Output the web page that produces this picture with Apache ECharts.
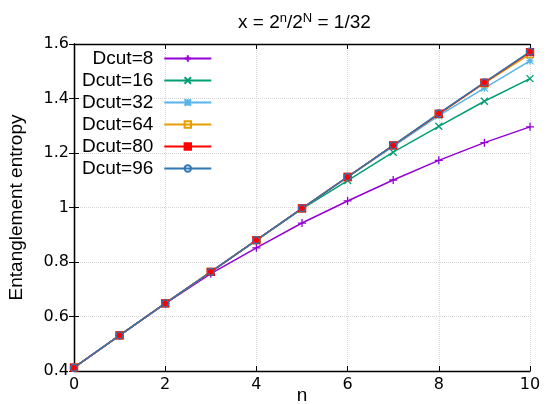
<!DOCTYPE html>
<html>
<head>
<meta charset="utf-8">
<title>Entanglement entropy</title>
<script src="https://cdn.jsdelivr.net/npm/echarts@6/dist/echarts.min.js"></script>
<style>
  html, body { margin: 0; padding: 0; background: #fff; }
  #entropyChart { width: 546px; height: 404px; }
</style>
</head>
<body>
<div id="entropyChart"></div>
<script>
// values
let nValues = [0, 1, 2, 3, 4, 5, 6, 7, 8, 9, 10];
let dcut8 = [0.412, 0.531, 0.647, 0.757, 0.852, 0.943, 1.024, 1.101, 1.173, 1.238, 1.296];
let dcut16 = [0.412, 0.531, 0.648, 0.764, 0.879, 0.995, 1.099, 1.203, 1.298, 1.390, 1.473];
let dcut32 = [0.412, 0.531, 0.648, 0.764, 0.880, 0.997, 1.111, 1.224, 1.337, 1.438, 1.538];
let dcut64 = [0.412, 0.531, 0.648, 0.764, 0.880, 0.997, 1.112, 1.228, 1.343, 1.456, 1.563];
let dcut80 = [0.412, 0.531, 0.648, 0.764, 0.880, 0.997, 1.112, 1.228, 1.344, 1.458, 1.570];
let dcut96 = [0.412, 0.531, 0.648, 0.764, 0.880, 0.997, 1.112, 1.228, 1.345, 1.459, 1.572];
let xTicks = [0, 2, 4, 6, 8, 10];
let yTicks = [0.4, 0.6, 0.8, 1, 1.2, 1.4, 1.6];

let seriesNames = ["Dcut=8", "Dcut=16", "Dcut=32", "Dcut=64", "Dcut=80", "Dcut=96"];
let seriesValues = [dcut8, dcut16, dcut32, dcut64, dcut80, dcut96];

// gnuplot-like colours and point types
let colors = ["#9400d3", "#009e73", "#56b4e9", "#e69f00", "#ff0000", "#2f78b4"];
let symbols = [
  "path://M5,0L5,10M0,5L10,5",
  "path://M0,0L10,10M10,0L0,10",
  "path://M0,0L10,10M10,0L0,10M5,0L5,10M0,5L10,5",
  "path://M0,0L10,0L10,10L0,10Z",
  "rect",
  "path://M10,5A5,5,0,1,1,0,5A5,5,0,1,1,10,5Z"
];
let symbolSizes = [8, 7, 7, 7, 7, 7];
let hollow = [false, false, false, true, false, true];

let armFont = "Liberation Sans, Arial, sans-serif";
let tickFont = "DejaVu Sans, sans-serif";

let series = seriesNames.map((name, i) => {
  return {
    name: name,
    type: "line",
    data: nValues.map((n, k) => [n, seriesValues[i][k]]),
    symbol: symbols[i],
    symbolSize: symbolSizes[i],
    showSymbol: true,
    lineStyle: { color: colors[i], width: 1.5 },
    itemStyle: {
      color: hollow[i] ? "rgba(0,0,0,0)" : colors[i],
      borderColor: colors[i],
      borderWidth: 1.3
    },
    emphasis: { disabled: true }
  };
});

let myChart = echarts.init(document.getElementById("entropyChart"));
myChart.setOption({
  animation: false,
  title: {
    left: 233,
    top: 7,
    text: "{a|x = 2}{s|n}{a|/2}{s|N}{a| = 1/32}",
    textStyle: {
      rich: {
        a: { fontFamily: armFont, fontSize: 19, fontWeight: "normal", color: "#000", lineHeight: 22 },
        s: { fontFamily: armFont, fontSize: 13, fontWeight: "normal", color: "#000", lineHeight: 22, padding: [0, 0, 9, 0] }
      }
    }
  },
  legend: {
    orient: "vertical",
    left: 82,
    top: 49,
    align: "right",
    padding: 0,
    itemWidth: 47,
    itemHeight: 8,
    itemGap: 3,
    selectedMode: false,
    textStyle: {
      fontFamily: armFont,
      fontSize: 19,
      lineHeight: 19,
      color: "#000",
      padding: [0, 6, 0, 0]
    },
    data: seriesNames
  },
  grid: {
    left: 74,
    right: 16,
    top: 44,
    bottom: 33,
    outerBoundsMode: "none"
  },
  xAxis: [
    {
      type: "value",
      min: 0,
      max: 10,
      interval: 2,
      name: "n",
      nameLocation: "middle",
      nameGap: 15,
      nameMoveOverlap: false,
      nameTextStyle: { fontFamily: armFont, fontSize: 19, color: "#000" },
      axisLine: { lineStyle: { color: "#000", width: 1.3 } },
      axisTick: { inside: true, length: 5, lineStyle: { color: "#000" } },
      axisLabel: {
        margin: 6,
        fontFamily: tickFont,
        fontSize: 16,
        color: "#000",
        formatter: v => (xTicks.indexOf(v) >= 0 ? String(v) : "")
      },
      splitLine: { show: true, lineStyle: { color: "#d6d6d6", type: "dotted", width: 1 } }
    },
    {
      type: "value",
      position: "top",
      min: 0,
      max: 10,
      interval: 2,
      axisLine: { show: true, lineStyle: { color: "#000", width: 1.3 } },
      axisTick: { show: true, inside: true, length: 5, lineStyle: { color: "#000" } },
      axisLabel: { show: false },
      splitLine: { show: false }
    }
  ],
  yAxis: [
    {
      type: "value",
      min: 0.4,
      max: 1.6,
      interval: 0.2,
      name: "Entanglement entropy",
      nameLocation: "middle",
      nameGap: 48,
      nameMoveOverlap: false,
      nameTextStyle: { fontFamily: armFont, fontSize: 19, color: "#000" },
      axisLine: { show: true, lineStyle: { color: "#000", width: 1.3 } },
      axisTick: { show: true, inside: true, length: 5, lineStyle: { color: "#000" } },
      axisLabel: {
        margin: 5,
        fontFamily: tickFont,
        fontSize: 16,
        color: "#000",
        formatter: v => {
          let r = Math.round(v * 10) / 10;
          return yTicks.indexOf(r) >= 0 ? String(r) : "";
        }
      },
      splitLine: { show: true, lineStyle: { color: "#d6d6d6", type: "dotted", width: 1 } }
    },
    {
      type: "value",
      position: "right",
      min: 0.4,
      max: 1.6,
      interval: 0.2,
      axisLine: { show: true, lineStyle: { color: "#000", width: 1.3 } },
      axisTick: { show: true, inside: true, length: 5, lineStyle: { color: "#000" } },
      axisLabel: { show: false },
      splitLine: { show: false }
    }
  ],
  series: series
});
</script>
</body>
</html>
